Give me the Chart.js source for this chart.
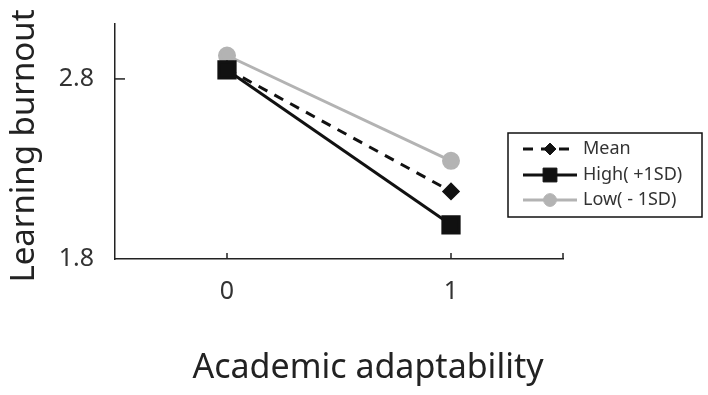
<!DOCTYPE html>
<html>
<head>
<meta charset="utf-8">
<script src="https://cdn.jsdelivr.net/npm/chart.js@4"></script>
<style>
  html, body { margin: 0; padding: 0; background: #fff; }
  #wrap { width: 708px; height: 395px; }
</style>
</head>
<body>
<div id="wrap"><canvas id="myChart" width="708" height="395"></canvas></div>
<script>
// simple slopes chart
var xValues = [0, 1];
var meanValues = [2.855, 2.175];
var highValues = [2.85, 1.99];
var lowValues = [2.93, 2.345];
var seriesNames = ['Mean', 'High( +1SD)', 'Low( - 1SD)'];
var xTicks = [0, 1];
var yTicks = [1.8, 2.8];

var FONT = '"Noto Sans", "DejaVu Sans", sans-serif';

function pts(vals) {
  return xValues.map(function (x, i) { return { x: x, y: vals[i] }; });
}

// inner tick marks, axis titles and boxed legend
var extras = {
  id: 'extras',
  afterDraw: function (chart) {
    var ctx = chart.ctx;
    var xs = chart.scales.x, ys = chart.scales.y;
    var a = chart.chartArea;
    ctx.save();
    ctx.strokeStyle = '#222';
    ctx.lineWidth = 1.5;
    yTicks.forEach(function (v) {
      if (v === ys.min) return;
      var py = ys.getPixelForValue(v);
      ctx.beginPath(); ctx.moveTo(a.left, py); ctx.lineTo(a.left + 10, py); ctx.stroke();
    });
    xTicks.concat([xs.max]).forEach(function (v) {
      var px = xs.getPixelForValue(v);
      ctx.beginPath(); ctx.moveTo(px, a.bottom); ctx.lineTo(px, a.bottom - 6); ctx.stroke();
    });

    ctx.fillStyle = '#222';
    ctx.font = '34px ' + FONT;
    ctx.textAlign = 'center';
    ctx.textBaseline = 'middle';
    ctx.fillText('Academic adaptability', 368, 368);
    ctx.font = '33px ' + FONT;
    ctx.save();
    ctx.translate(25, 146);
    ctx.rotate(-Math.PI / 2);
    ctx.fillText('Learning burnout', 0, 0);
    ctx.restore();

    // legend box
    ctx.lineWidth = 1.5;
    ctx.strokeStyle = '#111';
    ctx.strokeRect(508, 133, 194, 84);
    var rows = [149, 175, 200];
    chart.data.datasets.forEach(function (ds, i) {
      var y = rows[i];
      ctx.save();
      ctx.strokeStyle = ds.borderColor;
      ctx.lineWidth = ds.borderWidth;
      ctx.setLineDash(ds.borderDash || []);
      ctx.beginPath(); ctx.moveTo(523, y); ctx.lineTo(577, y); ctx.stroke();
      ctx.setLineDash([]);
      ctx.fillStyle = ds.pointBackgroundColor;
      ctx.strokeStyle = ds.pointBorderColor;
      ctx.lineWidth = 1;
      Chart.helpers.drawPoint(ctx, {
        pointStyle: ds.pointStyle, radius: ds.pointRadius * 0.85, rotation: 0, borderWidth: 1
      }, 550, y);
      ctx.fillStyle = '#333';
      ctx.font = '18px ' + FONT;
      ctx.textAlign = 'left';
      ctx.textBaseline = 'middle';
      ctx.fillText(seriesNames[i], 583, y);
      ctx.restore();
    });
    ctx.restore();
  }
};

var ctx = document.getElementById('myChart').getContext('2d');
var myChart = new Chart(ctx, {
  type: 'line',
  data: {
    datasets: [{
      label: seriesNames[0],
      data: pts(meanValues),
      order: 1,
      borderColor: '#111',
      borderWidth: 3,
      borderDash: [10, 8],
      pointStyle: 'rectRot',
      pointRadius: 7,
      pointBackgroundColor: '#111',
      pointBorderColor: '#111'
    }, {
      label: seriesNames[1],
      data: pts(highValues),
      order: 0,
      borderColor: '#111',
      borderWidth: 3,
      pointStyle: 'rect',
      pointRadius: 11.5,
      pointBackgroundColor: '#111',
      pointBorderColor: '#111'
    }, {
      label: seriesNames[2],
      data: pts(lowValues),
      order: 2,
      borderColor: '#b3b3b3',
      borderWidth: 3,
      pointStyle: 'circle',
      pointRadius: 7.5,
      pointBackgroundColor: '#b3b3b3',
      pointBorderColor: '#b3b3b3'
    }]
  },
  options: {
    responsive: false,
    animation: false,
    clip: false,
    layout: { padding: { top: 24, right: 145, left: 0, bottom: 0 } },
    plugins: {
      legend: { display: false },
      tooltip: { enabled: false }
    },
    scales: {
      x: {
        type: 'linear',
        min: -0.5,
        max: 1.5,
        afterBuildTicks: function (s) { s.ticks = xTicks.map(function (v) { return { value: v }; }); },
        afterFit: function (s) { s.height = 136; s.paddingLeft = 0; s.paddingRight = 0; },
        grid: { display: false, drawTicks: false },
        border: { display: true, color: '#222', width: 1.5 },
        ticks: {
          padding: 18,
          color: '#333',
          font: { family: FONT, size: 25 },
          maxRotation: 0
        }
      },
      y: {
        min: 1.8,
        max: 3.105,
        afterBuildTicks: function (s) { s.ticks = yTicks.map(function (v) { return { value: v }; }); },
        afterFit: function (s) { s.width = 115; s.paddingTop = 0; s.paddingBottom = 0; },
        grid: { display: false, drawTicks: false },
        border: { display: true, color: '#222', width: 1.5 },
        ticks: {
          padding: 21,
          color: '#333',
          font: { family: FONT, size: 25 },
          callback: function (v) { return v.toFixed(1); }
        }
      }
    }
  },
  plugins: [extras]
});
</script>
</body>
</html>
